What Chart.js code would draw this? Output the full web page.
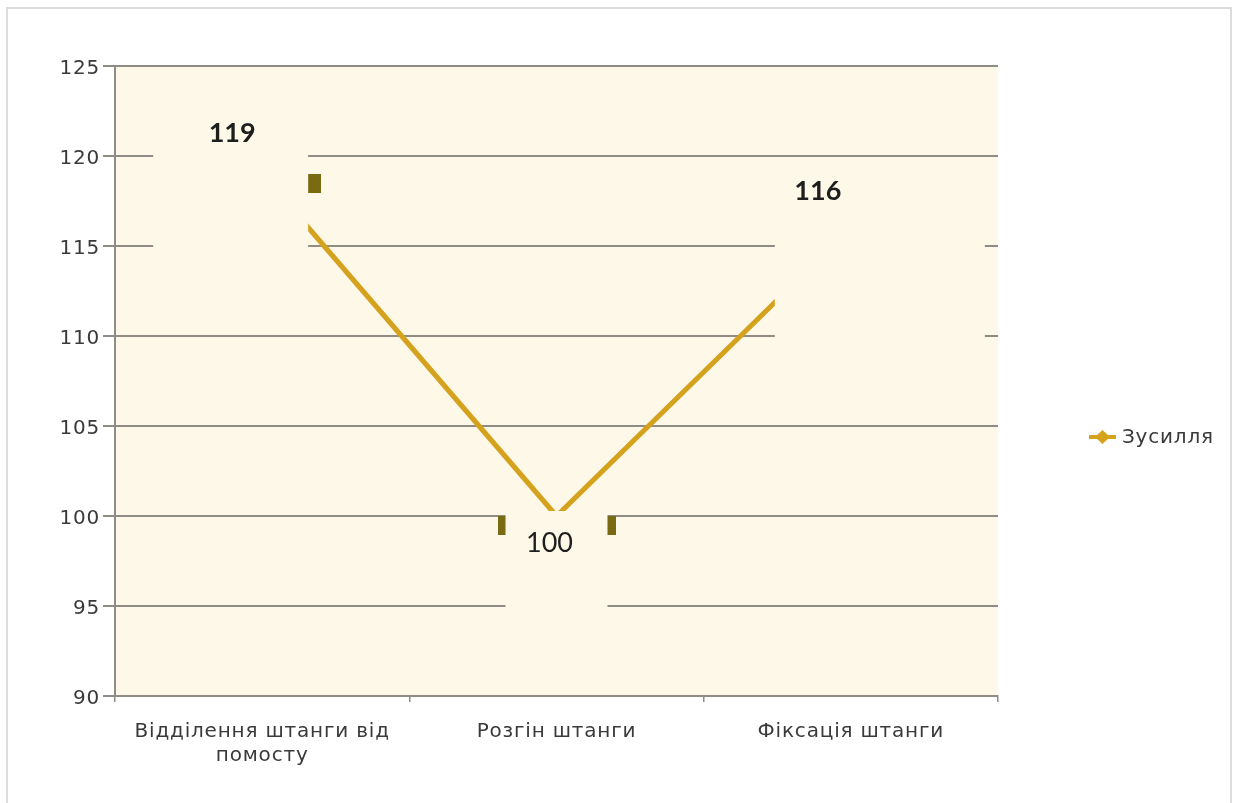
<!DOCTYPE html>
<html>
<head>
<meta charset="utf-8">
<script src="https://cdn.jsdelivr.net/npm/chart.js@4/dist/chart.umd.min.js"></script>
<style>
  html, body { margin: 0; padding: 0; background: #ffffff; }
  #wrap { width: 1238px; height: 803px; position: relative; }
</style>
</head>
<body>
<div id="wrap"><canvas id="c" width="1238" height="803"></canvas></div>
<script>
// Фази руху штанги та відповідне зусилля
const categories = [
  ["Відділення штанги від", "помосту"],
  "Розгін штанги",
  "Фіксація штанги"
];
const seriesName = "Зусилля";
const effort = [119, 100, 116];
const yTicks = [90, 95, 100, 105, 110, 115, 120, 125];

const plotBg = "#fef8e8";
const lineColor = "#d4a21c";
const gridColor = "#8e8c84";
const textColor = "#3a3a3a";
const axisFont = "'DejaVu Sans'";
const axisSpacing = "0.8px";

// Темний прямокутний маркер, верхній край якого лежить на рівні точки
function makeMarker() {
  const w = 118, h = 19;
  const cv = document.createElement("canvas");
  cv.width = w; cv.height = h * 2;
  const g = cv.getContext("2d");
  g.fillStyle = "#7a6a12";
  g.fillRect(0, h, w, h);
  return cv;
}

// Фон області побудови, рамка та розрідження тексту осей
const frame = {
  id: "frame",
  beforeDraw(chart) {
    const { ctx, chartArea: a } = chart;
    ctx.save();
    ctx.fillStyle = "#ffffff";
    ctx.fillRect(0, 0, chart.width, chart.height);
    ctx.strokeStyle = "#dcdcdc";
    ctx.lineWidth = 2;
    ctx.strokeRect(7, 8, chart.width - 14, chart.height + 10);
    ctx.fillStyle = plotBg;
    ctx.fillRect(a.left, a.top, a.right - a.left, a.bottom - a.top);
    ctx.restore();
    ctx.letterSpacing = axisSpacing;
  }
};

// Підписи значень на підкладках кольору фону
const valueLabels = {
  id: "valueLabels",
  afterDatasetsDraw(chart, args, opts) {
    const { ctx } = chart;
    const meta = chart.getDatasetMeta(0);
    const data = chart.data.datasets[0].data;
    ctx.save();
    ctx.letterSpacing = "0px";
    meta.data.forEach((pt, i) => {
      const b = opts.boxes[i];
      ctx.fillStyle = plotBg;
      ctx.fillRect(pt.x + b.left, pt.y + b.top, b.right - b.left, b.bottom - b.top);
      ctx.fillStyle = "#1e1e1e";
      ctx.font = (b.bold ? "bold " : "") + "27px Lato";
      ctx.textAlign = "center";
      ctx.textBaseline = "middle";
      ctx.fillText(String(data[i]), pt.x + b.tx, pt.y + b.ty);
    });
    ctx.restore();
  }
};

// Легенда праворуч: лінія з ромбом і назва ряду
const sideLegend = {
  id: "sideLegend",
  afterDraw(chart, args, opts) {
    const { ctx } = chart;
    const ds = chart.data.datasets[0];
    const x = opts.x, y = opts.y;
    ctx.save();
    ctx.strokeStyle = ds.borderColor;
    ctx.lineWidth = 4;
    ctx.beginPath();
    ctx.moveTo(x, y);
    ctx.lineTo(x + 27, y);
    ctx.stroke();
    ctx.fillStyle = ds.borderColor;
    ctx.beginPath();
    ctx.moveTo(x + 13.5, y - 7);
    ctx.lineTo(x + 21, y);
    ctx.lineTo(x + 13.5, y + 7);
    ctx.lineTo(x + 6, y);
    ctx.closePath();
    ctx.fill();
    ctx.fillStyle = textColor;
    ctx.letterSpacing = axisSpacing;
    ctx.font = "20px " + axisFont;
    ctx.textAlign = "left";
    ctx.textBaseline = "middle";
    ctx.fillText(ds.label, x + 33, y + 1);
    ctx.restore();
  }
};

new Chart(document.getElementById("c"), {
  type: "line",
  data: {
    labels: categories,
    datasets: [{
      label: seriesName,
      data: effort,
      borderColor: lineColor,
      backgroundColor: lineColor,
      borderWidth: 5,
      pointStyle: makeMarker(),
      pointRadius: 10,
      tension: 0,
      fill: false
    }]
  },
  options: {
    responsive: false,
    animation: false,
    events: [],
    layout: { padding: { left: 0, top: 66, right: 240, bottom: 0 } },
    plugins: {
      legend: { display: false },
      tooltip: { enabled: false },
      valueLabels: {
        boxes: [
          { left: -109, right: 46, top: -75, bottom: 84, tx: -30, ty: -41, bold: true },
          { left: -51, right: 51, top: -5, bottom: 124, tx: -7, ty: 27, bold: false },
          { left: -76, right: 134, top: -63, bottom: 122, tx: -33, ty: -37, bold: true }
        ]
      },
      sideLegend: { x: 1089, y: 437 }
    },
    scales: {
      x: {
        offset: true,
        grid: {
          offset: true,
          drawOnChartArea: false,
          drawTicks: true,
          tickLength: 6,
          color: gridColor,
          lineWidth: 1.5
        },
        border: { display: true, color: gridColor, width: 2 },
        ticks: {
          color: textColor,
          font: { family: axisFont, size: 20, lineHeight: 1.2 },
          padding: 18,
          maxRotation: 0,
          autoSkip: false
        },
        afterFit(scale) { scale.height = 107; }
      },
      y: {
        min: 90,
        max: 125,
        afterBuildTicks(scale) { scale.ticks = yTicks.map(v => ({ value: v })); },
        grid: {
          color: gridColor,
          lineWidth: 2,
          drawTicks: true,
          tickLength: 12
        },
        border: { display: true, color: gridColor, width: 2 },
        ticks: {
          color: textColor,
          font: { family: axisFont, size: 20 },
          padding: 3,
          labelOffset: 3
        },
        afterFit(scale) { scale.width = 115; }
      }
    }
  },
  plugins: [frame, valueLabels, sideLegend]
});
</script>
</body>
</html>
